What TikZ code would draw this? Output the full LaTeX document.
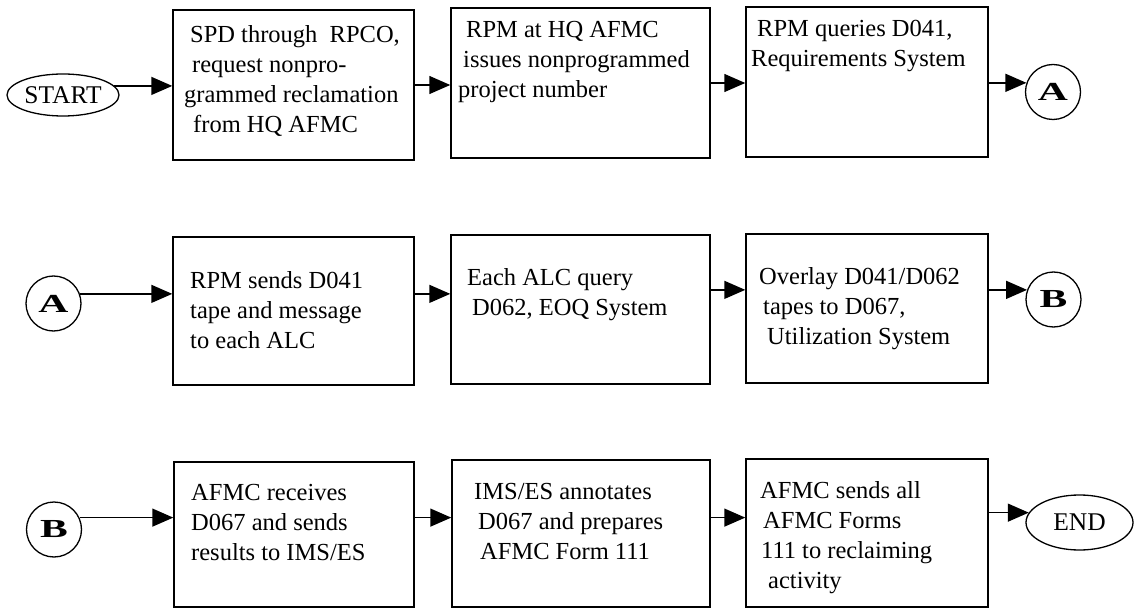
\documentclass[tikz,border=0pt]{standalone}
\usepackage{fontspec}
\usepackage{graphicx}
\setmainfont{Liberation Serif}
\usetikzlibrary{arrows.meta,shapes.geometric}
\begin{document}
\begin{tikzpicture}[x=1pt,y=-1pt,
  box/.style={draw, line width=1.5pt, inner sep=0pt},
  txt/.style={anchor=north west, inner sep=0pt, align=left, font=\fontsize{24.5}{30}\selectfont},
  conn/.style={-{Triangle[length=21pt,width=18pt]}, line width=1.5pt},
  circ/.style={draw, circle, line width=1.3pt, minimum size=55pt, inner sep=0pt, font=\fontsize{26}{30}\selectfont\bfseries},
  term/.style={draw, ellipse, line width=1.3pt, inner sep=0pt, font=\fontsize{25.5}{30}\selectfont}
]
\useasboundingbox (0,0) rectangle (1134,609);

% terminals
\node[term, minimum width=112pt, minimum height=42pt] (start) at (63,95) {START};
\node[term, minimum width=107pt, minimum height=55pt] (end) at (1079.5,522.5) {END};

% connector circles
\node[circ] (A1) at (1053,92) {\scalebox{1.6}[1]{A}};
\node[circ] (A2) at (53.5,303.5) {\scalebox{1.6}[1]{A}};
\node[circ] (B1) at (1053.5,299.5) {\scalebox{1.6}[1]{B}};
\node[circ] (B2) at (54,529.5) {\scalebox{1.6}[1]{B}};

% boxes
\node[box, minimum width=241pt, minimum height=150pt] (b1) at (293.5,85) {};
\node[box, minimum width=259pt, minimum height=150pt] (b2) at (580.5,83) {};
\node[box, minimum width=242pt, minimum height=150pt] (b3) at (867,82) {};
\node[box, minimum width=241pt, minimum height=148pt] (b4) at (293.5,311) {};
\node[box, minimum width=259pt, minimum height=149pt] (b5) at (580.5,309.5) {};
\node[box, minimum width=242pt, minimum height=149pt] (b6) at (867,308.5) {};
\node[box, minimum width=240pt, minimum height=145pt] (b7) at (294,534.5) {};
\node[box, minimum width=258pt, minimum height=147pt] (b8) at (581,533.5) {};
\node[box, minimum width=242pt, minimum height=148pt] (b9) at (867,533) {};

% texts
\node[txt] (t1) at (184,21) {\strut\hspace*{6pt}SPD through~~RPCO,\\\hspace*{8pt}request nonpro-\\grammed reclamation\\\hspace*{9pt}from HQ AFMC};
\node[txt] (t2) at (458,16) {\strut\hspace*{8pt}RPM at HQ AFMC\\\hspace*{5pt}issues nonprogrammed\\project number};
\node[txt] (t3) at (751,15) {\strut\hspace*{6pt}RPM queries D041,\\Requirements System};
\node[txt] (t4) at (190,267) {\strut RPM sends D041\\tape and message\\to each ALC};
\node[txt] (t5) at (467,264) {\strut Each ALC query\\\hspace*{5pt}D062, EOQ System};
\node[txt] (t6) at (759,263) {\strut Overlay D041/D062\\\hspace*{4pt}tapes to D067,\\\hspace*{8pt}Utilization System};
\node[txt] (t7) at (191,479) {\strut AFMC receives\\D067 and sends\\results to IMS/ES};
\node[txt] (t8) at (474,478) {\strut IMS/ES annotates\\\hspace*{4pt}D067 and prepares\\\hspace*{6pt}AFMC Form 111};
\node[txt] (t9) at (760,477) {\strut AFMC sends all\\\hspace*{3pt}AFMC Forms\\\hspace*{1pt}111 to reclaiming\\\hspace*{8pt}activity};

% arrows
\draw[conn] (start.10) -- (start.10 -| b1.west);
\draw[conn] (b1.east) -- (b1.east -| b2.west);
\draw[conn] (b2.east) -- (b2.east -| b3.west);
\draw[conn] (b3.east |- A1.161) -- (A1.161);
\draw[conn] (A2.20) -- (A2.20 -| b4.west);
\draw[conn] (b4.east |- A2.20) -- (b5.west |- A2.20);
\draw[conn] (b5.east |- B1.160) -- (b6.west |- B1.160);
\draw[conn] (b6.east |- B1.160) -- (B1.160);
\draw[conn] (B2.25) -- (B2.25 -| b7.west);
\draw[conn] (b7.east |- B2.25) -- (b8.west |- B2.25);
\draw[conn] (b8.east |- B2.25) -- (b9.west |- B2.25);
\draw[conn] (b9.east |- end.169) -- (end.169);
\end{tikzpicture}
\end{document}
